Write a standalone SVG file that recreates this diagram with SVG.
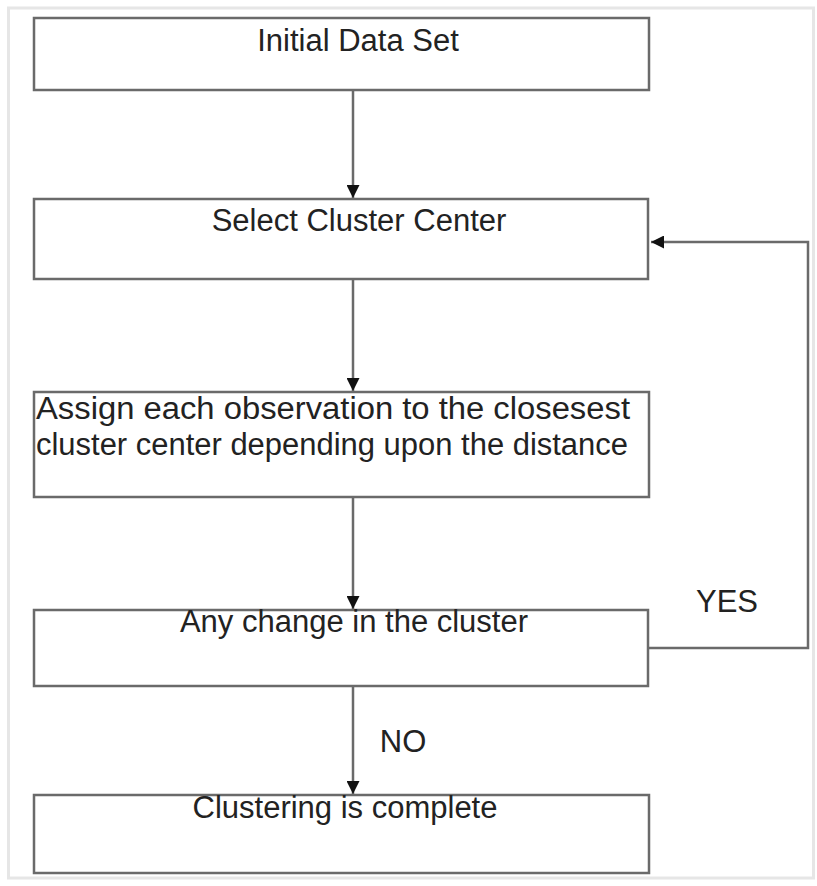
<svg xmlns="http://www.w3.org/2000/svg" width="817" height="886" viewBox="0 0 817 886">
<defs>
<style>
.box{fill:#fff;stroke:#6a6a6a;stroke-width:2.5}
.t{font-family:"Liberation Sans",Arial,sans-serif;font-size:31px;fill:#222}
.c{text-anchor:middle}
.ln{fill:none;stroke:#6a6a6a;stroke-width:2.5}
</style>
<marker id="ah" viewBox="0 0 10 10" refX="10" refY="5" markerWidth="5.2" markerHeight="5.2" markerUnits="strokeWidth" orient="auto">
<path d="M0,0 L10,5 L0,10 z" fill="#111"/>
</marker>
</defs>
<rect x="0" y="0" width="817" height="886" fill="#fff"/>
<rect x="8.5" y="8" width="805" height="870" fill="none" stroke="#e6e6e6" stroke-width="3"/>
<g id="connectors">
<line class="ln" x1="353" y1="90" x2="353" y2="198" marker-end="url(#ah)"/>
<line class="ln" x1="353" y1="279" x2="353" y2="391" marker-end="url(#ah)"/>
<line class="ln" x1="353" y1="497" x2="353" y2="609" marker-end="url(#ah)"/>
<line class="ln" x1="353" y1="686" x2="353" y2="794" marker-end="url(#ah)"/>
<polyline class="ln" points="649,648 808,648 808,242 651,242" marker-end="url(#ah)"/>
<text class="t c" x="727" y="612">YES</text>
<text class="t c" x="403" y="752">NO</text>
</g>
<g id="n1">
<rect class="box" x="34" y="18" width="615" height="72"/>
<text class="t c" x="358" y="51">Initial Data Set</text>
</g>
<g id="n2">
<rect class="box" x="34" y="199" width="614" height="80"/>
<text class="t c" x="359" y="231">Select Cluster Center</text>
</g>
<g id="n3">
<rect class="box" x="34" y="392" width="615" height="105"/>
<text class="t" x="36" y="419" textLength="594" lengthAdjust="spacingAndGlyphs">Assign each observation to the closesest</text>
<text class="t" x="36" y="455" textLength="592" lengthAdjust="spacingAndGlyphs">cluster center depending upon the distance</text>
</g>
<g id="n4">
<rect class="box" x="34" y="610" width="614" height="76"/>
<text class="t c" x="354" y="632">Any change in the cluster</text>
</g>
<g id="n5">
<rect class="box" x="34" y="795" width="615" height="78"/>
<text class="t c" x="345" y="818">Clustering is complete</text>
</g>
</svg>
